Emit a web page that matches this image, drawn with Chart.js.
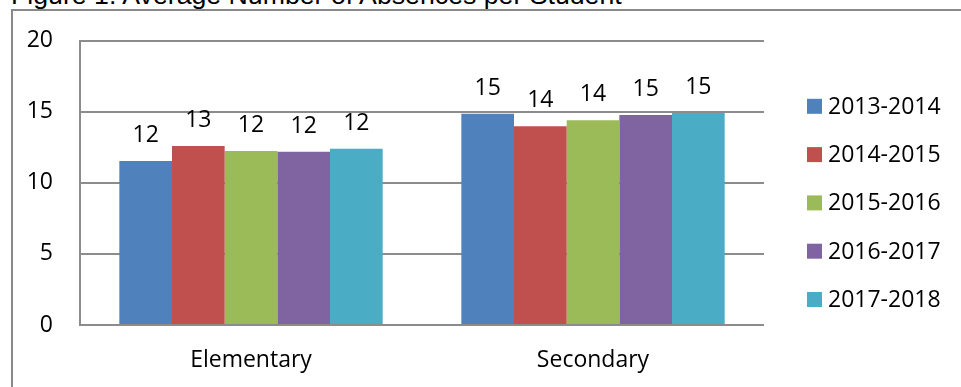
<!DOCTYPE html>
<html>
<head>
<meta charset="utf-8">
<script src="https://cdn.jsdelivr.net/npm/chart.js@4/dist/chart.umd.min.js"></script>
<style>
  html, body { margin: 0; padding: 0; background: #fff; overflow: hidden; }
  #wrap { position: relative; width: 961px; height: 387px; }
  #frame { position: absolute; left: 11px; top: 9px; width: 1000px; height: 420px;
           border: 2px solid #8a8a8a; box-sizing: border-box; }
  #title { position: absolute; left: 11px; top: -18px; margin: 0;
           font: 26.7px/26px "Liberation Sans", Arial, sans-serif; color: #000; white-space: nowrap; }
  canvas { position: absolute; left: 0; top: 0; }
</style>
</head>
<body>
<div id="wrap">
  <div id="frame"></div>
  <div id="title">Figure 1. Average Number of Absences per Student</div>
  <canvas id="c" width="961" height="387"></canvas>
</div>
<script>
// School levels on the category axis
const categories = ["Elementary", "Secondary"];

// Average absences per student, one array per school year
const years = ["2013-2014", "2014-2015", "2015-2016", "2016-2017", "2017-2018"];
const y2013_2014 = [11.54, 14.87];
const y2014_2015 = [12.59, 13.99];
const y2015_2016 = [12.24, 14.41];
const y2016_2017 = [12.19, 14.78];
const y2017_2018 = [12.40, 14.92];
const seriesValues = [y2013_2014, y2014_2015, y2015_2016, y2016_2017, y2017_2018];

// Value axis ticks
const yTicks = [0, 5, 10, 15, 20];

const colors = ["#4F81BD", "#C0504D", "#9BBB59", "#8064A2", "#4BACC6"];
const FONT = '"Open Sans", sans-serif';
const FONT_SIZE = 23;
const GRID = "#8c8c8c";

// Rounded value printed above each bar
const barLabels = {
  id: "barLabels",
  afterDatasetsDraw(chart) {
    const ctx = chart.ctx;
    ctx.save();
    ctx.font = FONT_SIZE + "px " + FONT;
    ctx.fillStyle = "#000";
    ctx.textAlign = "center";
    ctx.textBaseline = "alphabetic";
    chart.data.datasets.forEach((ds, i) => {
      chart.getDatasetMeta(i).data.forEach((bar, j) => {
        ctx.fillText(String(Math.round(ds.data[j])), bar.x, bar.y - 19);
      });
    });
    ctx.restore();
  }
};

// Legend column to the right of the plot
const sideLegend = {
  id: "sideLegend",
  afterDraw(chart) {
    const ctx = chart.ctx;
    const area = chart.chartArea;
    const x0 = area.right + 43;
    const base0 = area.top + 73;
    const step = 48.3;
    ctx.save();
    ctx.font = FONT_SIZE + "px " + FONT;
    ctx.textAlign = "left";
    ctx.textBaseline = "alphabetic";
    chart.data.datasets.forEach((ds, i) => {
      const base = base0 + i * step;
      ctx.fillStyle = ds.backgroundColor;
      ctx.fillRect(x0, base - 15, 15, 15);
      ctx.fillStyle = "#000";
      ctx.fillText(ds.label, x0 + 21, base);
    });
    ctx.restore();
  }
};

new Chart(document.getElementById("c"), {
  type: "bar",
  data: {
    labels: categories,
    datasets: years.map((yr, i) => ({
      label: yr,
      data: seriesValues[i],
      backgroundColor: colors[i],
      borderWidth: 0
    }))
  },
  options: {
    responsive: false,
    animation: false,
    devicePixelRatio: 1,
    layout: { padding: { left: 0, top: 39, right: 197, bottom: 0 } },
    datasets: { bar: { barPercentage: 1.0, categoryPercentage: 0.77 } },
    plugins: { legend: { display: false }, tooltip: { enabled: false }, title: { display: false } },
    scales: {
      x: {
        grid: { display: false },
        border: { display: false },
        ticks: { color: "#000", font: { family: FONT, size: FONT_SIZE }, padding: 14 },
        afterFit(scale) { scale.height = 62; }
      },
      y: {
        min: 0,
        max: 20,
        afterBuildTicks(scale) { scale.ticks = yTicks.map(v => ({ value: v })); },
        grid: { color: GRID, lineWidth: 2, drawTicks: false },
        border: { display: true, color: GRID, width: 2 },
        ticks: { color: "#000", font: { family: FONT, size: FONT_SIZE }, padding: 27 },
        afterFit(scale) { scale.width = 80; }
      }
    }
  },
  plugins: [barLabels, sideLegend]
});
</script>
</body>
</html>
